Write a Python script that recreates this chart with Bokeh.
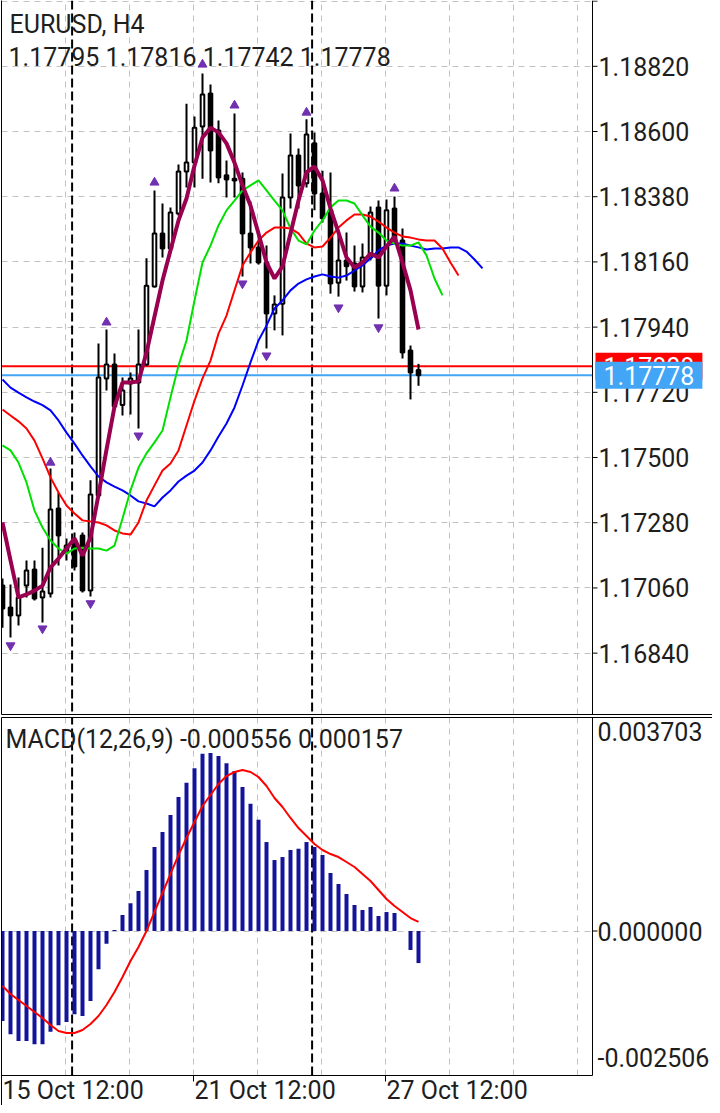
import math
from bokeh.plotting import figure
from bokeh.models import (Range1d, LinearAxis, FixedTicker, CustomJSTickFormatter, Grid,
                          Span, Label, ColumnDataSource)
from bokeh.layouts import column
from bokeh.embed import file_html
from bokeh.resources import INLINE

# ---------------- data (EURUSD, H4) ----------------
open_ = [1.17068, 1.16994, 1.16967, 1.17068, 1.17122, 1.17028, 1.17041, 1.17328, 1.17180, 1.17220,
         1.17237, 1.17051, 1.17372, 1.17767, 1.17814, 1.17677, 1.17750, 1.17753, 1.17814, 1.18077,
         1.18256, 1.18205, 1.18323, 1.18465, 1.18495, 1.18617, 1.18728, 1.18603, 1.18452, 1.18441,
         1.18441, 1.18256, 1.18209, 1.18158, 1.17986, 1.18019, 1.18377, 1.18519, 1.18425, 1.18560,
         1.18391, 1.18334, 1.18090, 1.18165, 1.18155, 1.18077, 1.18175, 1.18344, 1.18080, 1.18340,
         1.18232, 1.17861, 1.17795]
high = [1.17092, 1.17072, 1.17095, 1.17153, 1.17153, 1.17196, 1.17463, 1.17382, 1.17227, 1.17247,
        1.17247, 1.17423, 1.17885, 1.17932, 1.17851, 1.17770, 1.17787, 1.17932, 1.18172, 1.18401,
        1.18357, 1.18344, 1.18489, 1.18694, 1.18651, 1.18796, 1.18759, 1.18637, 1.18502, 1.18661,
        1.18462, 1.18364, 1.18229, 1.18215, 1.18047, 1.18458, 1.18593, 1.18543, 1.18641, 1.18597,
        1.18468, 1.18462, 1.18249, 1.18259, 1.18215, 1.18222, 1.18347, 1.18367, 1.18371, 1.18381,
        1.18273, 1.17878, 1.17816]
low = [1.16926, 1.16893, 1.16933, 1.17028, 1.17018, 1.16943, 1.17028, 1.17136, 1.17153, 1.17119,
       1.17045, 1.17031, 1.17365, 1.17726, 1.17669, 1.17642, 1.17645, 1.17598, 1.17810, 1.18074,
       1.18175, 1.18199, 1.18317, 1.18411, 1.18411, 1.18441, 1.18428, 1.18425, 1.18377, 1.18377,
       1.18111, 1.18155, 1.18151, 1.17868, 1.17929, 1.17912, 1.18340, 1.18340, 1.18411, 1.18334,
       1.18293, 1.18053, 1.18043, 1.18097, 1.18060, 1.18057, 1.18165, 1.17969, 1.18047, 1.18226,
       1.17834, 1.17696, 1.17742]
close = [1.16991, 1.16967, 1.17028, 1.17119, 1.17024, 1.17048, 1.17325, 1.17237, 1.17203, 1.17132,
         1.17051, 1.17375, 1.17770, 1.17814, 1.17672, 1.17726, 1.17767, 1.17814, 1.18080, 1.18256,
         1.18205, 1.18327, 1.18465, 1.18495, 1.18613, 1.18725, 1.18536, 1.18445, 1.18438, 1.18435,
         1.18256, 1.18209, 1.18158, 1.17986, 1.18016, 1.18377, 1.18519, 1.18418, 1.18590, 1.18391,
         1.18307, 1.18087, 1.18165, 1.18145, 1.18077, 1.18175, 1.18327, 1.18080, 1.18334, 1.18232,
         1.17854, 1.17787, 1.17778]

ma_purple = [1.17281, 1.17153, 1.17028, 1.17038, 1.17051, 1.17068, 1.17129, 1.17159, 1.17193, 1.17227,
             1.17169, 1.17230, 1.17375, 1.17527, 1.17672, 1.17753, 1.17753, 1.17757, 1.17854, 1.17976,
             1.18097, 1.18199, 1.18300, 1.18374, 1.18485, 1.18580, 1.18613, 1.18597, 1.18560, 1.18495,
             1.18418, 1.18350, 1.18256, 1.18158, 1.18104, 1.18145, 1.18256, 1.18367, 1.18462, 1.18482,
             1.18435, 1.18340, 1.18259, 1.18175, 1.18141, 1.18158, 1.18188, 1.18175, 1.18212, 1.18246,
             1.18158, 1.18064, 1.17932]
# Alligator lines (drawn shifted forward: lips 3, teeth 5, jaw 8 bars)
lips = [1.17541, 1.17524, 1.17483, 1.17416, 1.17321, 1.17264, 1.17220, 1.17193, 1.17176, 1.17193,
        1.17196, 1.17193, 1.17193, 1.17186, 1.17203, 1.17294, 1.17389, 1.17466, 1.17514, 1.17551,
        1.17591, 1.17703, 1.17810, 1.17895, 1.18030, 1.18158, 1.18215, 1.18283, 1.18334, 1.18367,
        1.18401, 1.18418, 1.18435, 1.18401, 1.18367, 1.18334, 1.18273, 1.18232, 1.18219, 1.18266,
        1.18300, 1.18344, 1.18367, 1.18367, 1.18357, 1.18317, 1.18279, 1.18259, 1.18232, 1.18222,
        1.18215, 1.18215, 1.18226, 1.18182, 1.18104, 1.18047]
teeth = [1.17662, 1.17642, 1.17622, 1.17598, 1.17557, 1.17497, 1.17433, 1.17382, 1.17338, 1.17311,
         1.17288, 1.17284, 1.17281, 1.17271, 1.17254, 1.17244, 1.17240, 1.17281, 1.17355, 1.17406,
         1.17456, 1.17480, 1.17524, 1.17608, 1.17692, 1.17767, 1.17827, 1.17918, 1.17979, 1.18064,
         1.18148, 1.18192, 1.18232, 1.18259, 1.18276, 1.18276, 1.18273, 1.18256, 1.18222, 1.18209,
         1.18212, 1.18242, 1.18276, 1.18300, 1.18320, 1.18320, 1.18313, 1.18296, 1.18276, 1.18259,
         1.18246, 1.18242, 1.18236, 1.18232, 1.18232, 1.18205, 1.18158, 1.18114]
jaw = [1.17763, 1.17736, 1.17719, 1.17703, 1.17689, 1.17677, 1.17659, 1.17625, 1.17584, 1.17547,
       1.17507, 1.17470, 1.17436, 1.17416, 1.17402, 1.17389, 1.17372, 1.17352, 1.17345, 1.17335,
       1.17365, 1.17389, 1.17419, 1.17439, 1.17456, 1.17483, 1.17524, 1.17571, 1.17615, 1.17669,
       1.17743, 1.17821, 1.17895, 1.17945, 1.18003, 1.18030, 1.18064, 1.18087, 1.18101, 1.18111,
       1.18118, 1.18111, 1.18107, 1.18114, 1.18131, 1.18148, 1.18172, 1.18199, 1.18215, 1.18222,
       1.18222, 1.18215, 1.18209, 1.18202, 1.18205, 1.18205, 1.18209, 1.18209, 1.18195, 1.18168,
       1.18138]

frac_up_bar = [6, 13, 19, 25, 29, 38, 49]
frac_up_price = [1.17483, 1.17956, 1.18428, 1.18826, 1.18688, 1.18664, 1.18408]
frac_dn_bar = [1, 5, 11, 17, 30, 33, 42, 47]
frac_dn_price = [1.16866, 1.16923, 1.17008, 1.17574, 1.18087, 1.17844, 1.18006, 1.17939]

macd_hist = [-0.001561, -0.001791, -0.001907, -0.001907, -0.001965, -0.001965, -0.001746, -0.001635,
             -0.001578, -0.001444, -0.001474, -0.001214, -0.000664, -0.000220, 0.000017, 0.000277,
             0.000480, 0.000694, 0.001058, 0.001457, 0.001717, 0.002012, 0.002324, 0.002572,
             0.002821, 0.003075, 0.003087, 0.003035, 0.002908, 0.002775, 0.002497, 0.002208,
             0.001930, 0.001543, 0.001231, 0.001283, 0.001405, 0.001427, 0.001543, 0.001457,
             0.001318, 0.001006, 0.000815, 0.000642, 0.000451, 0.000364, 0.000416, 0.000260,
             0.000329, 0.000312, 0.000000, -0.000329, -0.000556]
macd_signal = [-0.000954, -0.001093, -0.001197, -0.001301, -0.001405, -0.001509, -0.001630, -0.001734,
               -0.001769, -0.001769, -0.001717, -0.001613, -0.001474, -0.001283, -0.001058, -0.000798,
               -0.000520, -0.000277, 0.000000, 0.000330, 0.000659, 0.000989, 0.001318, 0.001613,
               0.001890, 0.002168, 0.002359, 0.002550, 0.002688, 0.002758, 0.002792, 0.002758,
               0.002671, 0.002515, 0.002307, 0.002151, 0.001960, 0.001786, 0.001648, 0.001509,
               0.001405, 0.001335, 0.001283, 0.001197, 0.001110, 0.000989, 0.000867, 0.000711,
               0.000555, 0.000434, 0.000330, 0.000225, 0.000157]

price_ticks = [1.16840, 1.17060, 1.17280, 1.17500, 1.17720, 1.17940, 1.18160, 1.18380, 1.18600,
               1.18820]
edge_price_ticks = [1.19040]          # grid line/tick at the very top, label not shown
time_tick_bars = [0, 24, 48]
time_labels = ["15 Oct 12:00", "21 Oct 12:00", "27 Oct 12:00"]
separator_bars = [8.7, 38.7]
ask = 1.17808
bid = 1.17778
macd_max = 0.003703
macd_min = -0.002506

# ---------------- styling / layout ----------------
FONT = "Roboto"
FS = "25px"
TXT = "#1e1e1e"
GRID_COL = "#c2c2c2"
grid_step = 8
grid_shift = -0.125

bars = list(range(len(close)))
x_range = Range1d(-0.125, 88.75)     # frame spans the whole width (price scale drawn inside)
axis_x = 73.75                        # position of the price scale line
y_price = Range1d(1.16633, 1.19042)
macd_pane_px = 358
macd_px = macd_pane_px / (macd_max - macd_min)
y_macd = Range1d(macd_min - 30 / macd_px, macd_max)

vgrid_ticks = [grid_shift + grid_step * k for k in range(0, 10)]
time_ticks = [b + grid_shift for b in time_tick_bars]


def base_fig(h, yr, top, bottom):
    p = figure(width=712, height=h, x_range=x_range, y_range=yr,
               output_backend="svg", toolbar_location=None,
               x_axis_location=None, y_axis_location=None,
               min_border_left=1, min_border_right=0,
               min_border_top=top, min_border_bottom=bottom,
               outline_line_color=None, background_fill_color="white",
               border_fill_color="white")
    p.xgrid.visible = False
    p.ygrid.visible = False
    return p


def line_axis():
    return LinearAxis(ticker=FixedTicker(ticks=[]),
                      formatter=CustomJSTickFormatter(code="return ''"),
                      major_tick_out=0, major_tick_in=0, minor_tick_out=0, minor_tick_in=0,
                      major_label_standoff=0, axis_line_color="black", axis_line_width=1)


def txt(**kw):
    base = dict(text_font=FONT, text_font_size=FS, text_color=TXT, text_baseline="middle")
    base.update(kw)
    return Label(**base)


# ---------------- price pane ----------------
p1 = base_fig(715, y_price, 0, 1)
p1.add_layout(line_axis(), "below")
p1.add_layout(line_axis(), "left")
p1.add_layout(Grid(dimension=0, ticker=FixedTicker(ticks=vgrid_ticks),
                   grid_line_color=GRID_COL, grid_line_dash="6 5", grid_line_width=1))
p1.add_layout(Grid(dimension=1, ticker=FixedTicker(ticks=price_ticks + edge_price_ticks),
                   cross_bounds=(x_range.start, axis_x),
                   grid_line_color=GRID_COL, grid_line_dash="6 5", grid_line_width=1))
for s in separator_bars:
    p1.add_layout(Span(location=s, dimension="height", line_color="black",
                       line_width=2, line_dash="9 4", level="underlay"))
p1.add_layout(Span(location=axis_x, dimension="height", line_color="black", line_width=1))

all_ticks = price_ticks + edge_price_ticks
p1.ray(x=[axis_x] * len(all_ticks), y=all_ticks, length=5, length_units="screen",
       angle=0, line_color="black", line_width=1)

p1.segment(x0=[x_range.start], y0=[ask], x1=[axis_x], y1=[ask], line_color="#ff0000", line_width=2)
p1.segment(x0=[x_range.start], y0=[bid], x1=[axis_x], y1=[bid], line_color="#42a5f5", line_width=2)

src = ColumnDataSource(dict(
    x=bars, o=open_, h=high, l=low, c=close,
    top=[max(o, c) for o, c in zip(open_, close)],
    bot=[min(o, c) for o, c in zip(open_, close)],
    fill=["white" if c >= o else "black" for o, c in zip(open_, close)],
))
p1.segment(x0="x", y0="l", x1="x", y1="h", source=src, line_color="black", line_width=2)
p1.vbar(x="x", width=0.45, top="top", bottom="bot", source=src,
        fill_color="fill", line_color="black", line_width=2)

p1.line(list(range(len(jaw))), jaw, line_color="#0000ff", line_width=2)
p1.line(list(range(len(teeth))), teeth, line_color="#ff0000", line_width=2)
p1.line(list(range(len(lips))), lips, line_color="#00e000", line_width=2)
p1.line(bars, ma_purple, line_color="#990050", line_width=4)

p1.scatter(frac_up_bar, frac_up_price, marker="triangle", size=9,
           fill_color="#7030b0", line_color="#7030b0")
p1.scatter(frac_dn_bar, frac_dn_price, marker="inverted_triangle", size=9,
           fill_color="#7030b0", line_color="#7030b0")

for t in price_ticks:
    p1.add_layout(txt(x=axis_x, y=t, x_offset=6, text=f"{t:.5f}"))

p1.add_layout(txt(x=x_range.start, y=y_price.end, x_offset=8, y_offset=-24,
                  text="EURUSD, H4"))
ohlc_text = " ".join(f"{v:.5f}" for v in (open_[-1], high[-1], low[-1], close[-1]))
p1.add_layout(txt(x=x_range.start, y=y_price.end, x_offset=7, y_offset=-57,
                  text=ohlc_text))

p1.add_layout(txt(x=axis_x, y=ask, x_offset=3, text=f"{ask:.5f}", text_color="white",
                  text_align="left", background_fill_color="#ff0000", padding=(8, 4)))
p1.add_layout(txt(x=axis_x, y=bid, x_offset=3, text=f"{bid:.5f}", text_color="white",
                  text_align="left", background_fill_color="#42a5f5", padding=(8, 4)))

# ---------------- MACD pane ----------------
p2 = base_fig(390, y_macd, 2, 0)
p2.add_layout(line_axis(), "above")
p2.add_layout(line_axis(), "left")
p2.add_layout(Grid(dimension=0, ticker=FixedTicker(ticks=vgrid_ticks),
                   cross_bounds=(macd_min, macd_max),
                   grid_line_color=GRID_COL, grid_line_dash="6 5", grid_line_width=1))
p2.add_layout(Grid(dimension=1, ticker=FixedTicker(ticks=[0.0]),
                   cross_bounds=(x_range.start, axis_x),
                   grid_line_color=GRID_COL, grid_line_dash="6 5", grid_line_width=1))
p2.segment(x0=separator_bars, y0=[macd_min] * len(separator_bars),
           x1=separator_bars, y1=[macd_max] * len(separator_bars),
           line_color="black", line_width=2, line_dash="9 4")

# scale lines of the MACD pane
p2.segment(x0=[axis_x, x_range.start], y0=[macd_min, macd_min],
           x1=[axis_x, axis_x], y1=[macd_max, macd_min], line_color="black", line_width=1)
p2.ray(x=[axis_x], y=[0.0], length=5, length_units="screen", angle=0,
       line_color="black", line_width=1)
p2.ray(x=time_ticks, y=[macd_min] * len(time_ticks), length=6, length_units="screen",
       angle=-math.pi / 2, line_color="black", line_width=1)

p2.vbar(x=bars, width=0.5, top=macd_hist, bottom=0, fill_color="#14149b", line_color=None)
p2.line(bars, macd_signal, line_color="#ff0000", line_width=2)

p2.add_layout(txt(x=x_range.start, y=macd_max, x_offset=4, y_offset=-22,
                  text=f"MACD(12,26,9) {macd_hist[-1]:.6f} {macd_signal[-1]:.6f}"))
p2.add_layout(txt(x=axis_x, y=macd_max, x_offset=5, y_offset=-14, text=f"{macd_max:.6f}"))
p2.add_layout(txt(x=axis_x, y=0.0, x_offset=5, text=f"{0.0:.6f}"))
p2.add_layout(txt(x=axis_x, y=macd_min, x_offset=5, y_offset=18, text=f"{macd_min:.6f}"))
for t, lab in zip(time_ticks, time_labels):
    p2.add_layout(txt(x=t, y=macd_min, x_offset=1, y_offset=-15, text=lab))

layout = column(p1, p2)
open("out.html", "w").write(file_html(layout, INLINE))
